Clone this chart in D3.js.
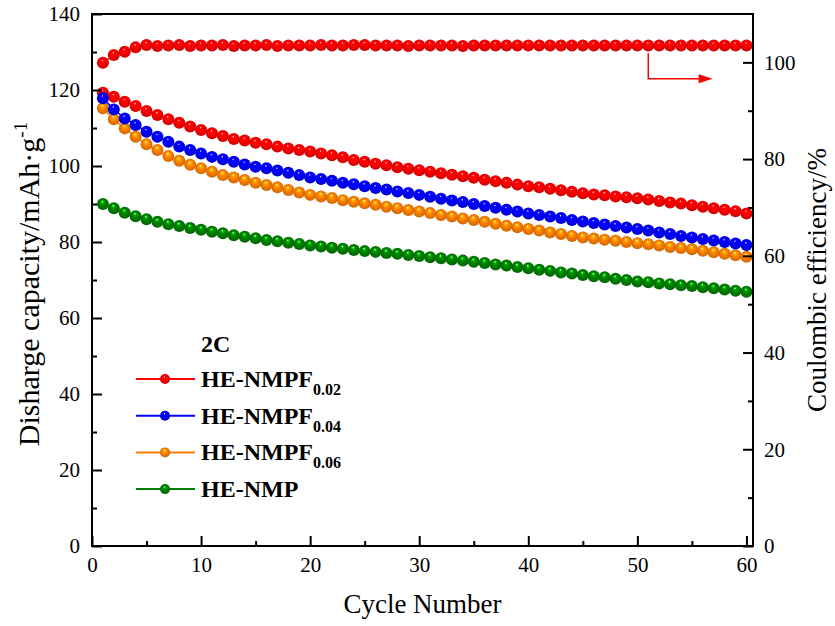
<!DOCTYPE html>
<html>
<head>
<meta charset="utf-8">
<script src="https://cdn.jsdelivr.net/npm/d3@7"></script>
<style>
  html, body { margin: 0; padding: 0; background: #fff; }
  svg { display: block; }
  text { font-family: "Liberation Serif", "Times New Roman", serif; fill: #000; }
</style>
</head>
<body>
<svg id="chart" width="835" height="626"></svg>
<script>
// ---------------- DATA ----------------
const cycles = d3.range(1, 61);

const seriesNames = ["HE-NMPF", "HE-NMPF", "HE-NMPF", "HE-NMP"];
const seriesSubs  = ["0.02", "0.04", "0.06", ""];
const seriesColors = ["#ff0000", "#0000ff", "#ff8000", "#008000"];

const capNMPF002 = [119.3,118.2,116.9,115.8,114.5,113.4,112.3,111.4,110.4,109.5,
  108.6,107.9,107.1,106.7,106.1,105.7,105.1,104.6,104.2,103.8,
  103.3,102.8,102.3,101.6,101.1,100.6,100.2,99.7,99.3,98.9,
  98.5,98.1,97.7,97.3,96.9,96.4,96.0,95.6,95.1,94.7,
  94.4,94.0,93.6,93.2,92.8,92.5,92.3,92.0,91.8,91.5,
  91.2,90.8,90.4,90.1,89.7,89.3,88.9,88.5,88.1,87.5];

const capNMPF004 = [117.8,114.9,112.5,110.8,109.0,107.7,106.4,105.1,104.2,103.3,
  102.4,101.8,101.1,100.4,99.8,99.4,98.8,98.2,97.6,97.0,
  96.6,96.1,95.6,95.2,94.7,94.2,93.8,93.3,92.9,92.4,
  91.9,91.4,90.9,90.5,90.0,89.5,89.0,88.5,88.0,87.5,
  87.1,86.7,86.3,85.8,85.4,85.0,84.6,84.2,83.8,83.4,
  83.0,82.5,82.1,81.6,81.2,80.8,80.4,80.0,79.6,79.2];

const capNMPF006 = [115.2,112.3,109.9,107.7,105.7,104.2,102.6,101.4,100.3,99.4,
  98.5,97.6,97.0,96.3,95.6,95.0,94.4,93.7,93.0,92.4,
  92.0,91.6,91.0,90.6,90.2,89.8,89.3,88.9,88.4,88.0,
  87.6,87.1,86.7,86.2,85.8,85.3,84.8,84.3,83.9,83.4,
  83.0,82.5,82.1,81.6,81.2,80.9,80.6,80.3,80.0,79.7,
  79.4,79.1,78.7,78.4,78.1,77.7,77.3,76.9,76.5,76.1];

const capNMP = [90.0,88.9,87.7,86.8,86.0,85.3,84.7,84.2,83.7,83.2,
  82.7,82.3,81.8,81.4,81.0,80.5,80.2,79.8,79.5,79.1,
  78.8,78.5,78.2,77.9,77.6,77.4,77.1,76.9,76.6,76.3,
  76.0,75.7,75.4,75.1,74.8,74.5,74.1,73.8,73.4,73.1,
  72.7,72.4,72.0,71.7,71.3,71.0,70.7,70.3,70.0,69.6,
  69.4,69.1,68.9,68.6,68.4,68.1,67.8,67.5,67.2,66.9];

// Coulombic efficiency of HE-NMPF0.02 (right axis)
const ceNMPF002 = [99.9,101.5,102.2,103.1,103.6,103.4,103.5,103.6,103.4,103.5,
  103.5,103.6,103.4,103.5,103.5,103.6,103.4,103.5,103.5,103.5,
  103.6,103.5,103.5,103.6,103.6,103.5,103.5,103.5,103.4,103.5,
  103.5,103.5,103.5,103.4,103.5,103.5,103.5,103.5,103.5,103.5,
  103.5,103.5,103.5,103.5,103.5,103.5,103.5,103.5,103.5,103.5,
  103.5,103.5,103.5,103.5,103.5,103.5,103.5,103.5,103.5,103.5];

const xTicks = [0, 10, 20, 30, 40, 50, 60];
const xMinor = [5, 15, 25, 35, 45, 55];
const yLeftTicks = [0, 20, 40, 60, 80, 100, 120, 140];
const yLeftMinor = [10, 30, 50, 70, 90, 110, 130];
const yRightTicks = [0, 20, 40, 60, 80, 100];
const yRightMinor = [10, 30, 50, 70, 90];

const xTitle = "Cycle Number";
const yLeftTitle = "Disharge capacity/mAh·g";
const yRightTitle = "Coulombic efficiency/%";
const rateLabel = "2C";

// arrow annotation (data coords: cycle, right-axis %)
const arrowPts = [[51, 101.9], [51, 96.6], [56.9, 96.6]];

// ---------------- LAYOUT ----------------
const svg = d3.select("#chart");
const L = 92, R = 753, T = 14, B = 546;

const x = d3.scaleLinear().domain([0, 60.6]).range([L, R]);
const yL = d3.scaleLinear().domain([0, 140]).range([B, T]);
const yR = d3.scaleLinear().domain([0, 110]).range([B, T]);

const defs = svg.append("defs");
function gradFor(color, id) {
  const c = d3.color(color);
  const g = defs.append("radialGradient").attr("id", id)
    .attr("cx", "0.5").attr("cy", "0.5").attr("r", "0.55")
    .attr("fx", "0.45").attr("fy", "0.28");
  g.append("stop").attr("offset", "0%").attr("stop-color", "#ffffff");
  g.append("stop").attr("offset", "18%").attr("stop-color", c.brighter(0.9).formatHex());
  g.append("stop").attr("offset", "45%").attr("stop-color", c.formatHex());
  g.append("stop").attr("offset", "100%").attr("stop-color", c.darker(0.7).formatHex());
  return "url(#" + id + ")";
}
const fills = seriesColors.map((c, i) => gradFor(c, "g" + i));

// ---------------- SERIES ----------------
const capSeries = [capNMPF002, capNMPF004, capNMPF006, capNMP];

function drawSeries(values, yScale, color, fill) {
  const g = svg.append("g");
  g.append("path")
    .datum(values)
    .attr("fill", "none")
    .attr("stroke", color)
    .attr("stroke-width", 1.5)
    .attr("d", d3.line().x((d, i) => x(cycles[i])).y(d => yScale(d)));
  g.selectAll("circle").data(values).join("circle")
    .attr("cx", (d, i) => x(cycles[i]))
    .attr("cy", d => yScale(d))
    .attr("r", 6)
    .attr("fill", fill);
}

drawSeries(ceNMPF002, yR, seriesColors[0], fills[0]);
drawSeries(capSeries[3], yL, seriesColors[3], fills[3]);
drawSeries(capSeries[2], yL, seriesColors[2], fills[2]);
drawSeries(capSeries[0], yL, seriesColors[0], fills[0]);
drawSeries(capSeries[1], yL, seriesColors[1], fills[1]);

// ---------------- AXES ----------------
const tickFont = 21;
function styleAxis(g) {
  g.select(".domain").remove();
  g.selectAll(".tick line").attr("stroke", "#000").attr("stroke-width", 2);
  g.selectAll(".tick text").attr("font-size", tickFont).attr("fill", "#000");
}

// bottom
svg.append("g").attr("transform", `translate(0,${B})`)
  .call(d3.axisBottom(x).tickValues(xTicks).tickSize(-10).tickPadding(11).tickFormat(d3.format("d")))
  .call(styleAxis);
svg.append("g").attr("transform", `translate(0,${B})`)
  .call(d3.axisBottom(x).tickValues(xMinor).tickSize(-5).tickFormat(""))
  .call(styleAxis);
// left
svg.append("g").attr("transform", `translate(${L},0)`)
  .call(d3.axisLeft(yL).tickValues(yLeftTicks).tickSize(-10).tickPadding(12).tickFormat(d3.format("d")))
  .call(styleAxis);
svg.append("g").attr("transform", `translate(${L},0)`)
  .call(d3.axisLeft(yL).tickValues(yLeftMinor).tickSize(-5).tickFormat(""))
  .call(styleAxis);
// right
svg.append("g").attr("transform", `translate(${R},0)`)
  .call(d3.axisRight(yR).tickValues(yRightTicks).tickSize(-10).tickPadding(11).tickFormat(d3.format("d")))
  .call(styleAxis);
svg.append("g").attr("transform", `translate(${R},0)`)
  .call(d3.axisRight(yR).tickValues(yRightMinor).tickSize(-5).tickFormat(""))
  .call(styleAxis);

// frame
svg.append("rect").attr("x", L).attr("y", T).attr("width", R - L).attr("height", B - T)
  .attr("fill", "none").attr("stroke", "#000").attr("stroke-width", 2);

// titles
svg.append("text").attr("x", (L + R) / 2).attr("y", 613)
  .attr("text-anchor", "middle").attr("font-size", 27).text(xTitle);

const lt = svg.append("text")
  .attr("transform", `translate(39,284) rotate(-90)`)
  .attr("text-anchor", "middle").attr("font-size", 30);
lt.append("tspan").text(yLeftTitle);
lt.append("tspan").attr("font-size", 19).attr("dy", -12).text("-1");

svg.append("text")
  .attr("transform", `translate(826,${(T + B) / 2}) rotate(-90)`)
  .attr("text-anchor", "middle").attr("font-size", 27).text(yRightTitle);

// arrow annotation
svg.append("path")
  .attr("d", d3.line().x(d => x(d[0])).y(d => yR(d[1]))(arrowPts.slice(0, 2).concat([[arrowPts[2][0] - 1.2, arrowPts[2][1]]])))
  .attr("fill", "none").attr("stroke", "#ff0000").attr("stroke-width", 1.5);
{
  const tx = x(arrowPts[2][0]), ty = yR(arrowPts[2][1]);
  svg.append("path")
    .attr("d", `M${tx},${ty} L${tx - 14},${ty - 4.5} L${tx - 14},${ty + 4.5} Z`)
    .attr("fill", "#ff0000");
}

// ---------------- LEGEND ----------------
const legX0 = 136, legX1 = 195, legMark = 165, legText = 201, legY0 = 379, legDy = 36.7;
svg.append("text").attr("x", legText).attr("y", legY0 - legDy + 10)
  .attr("font-size", 24).attr("font-weight", "bold").text(rateLabel);

seriesNames.forEach((name, i) => {
  const yy = legY0 + i * legDy;
  svg.append("line").attr("x1", legX0).attr("x2", legX1).attr("y1", yy).attr("y2", yy)
    .attr("stroke", seriesColors[i]).attr("stroke-width", 2);
  svg.append("circle").attr("cx", legMark).attr("cy", yy).attr("r", 5).attr("fill", fills[i]);
  const t = svg.append("text").attr("x", legText).attr("y", yy + 8)
    .attr("font-size", 24).attr("font-weight", "bold");
  t.append("tspan").text(name);
  if (seriesSubs[i]) t.append("tspan").attr("font-size", 16).attr("dy", 8).text(seriesSubs[i]);
});
</script>
</body>
</html>
